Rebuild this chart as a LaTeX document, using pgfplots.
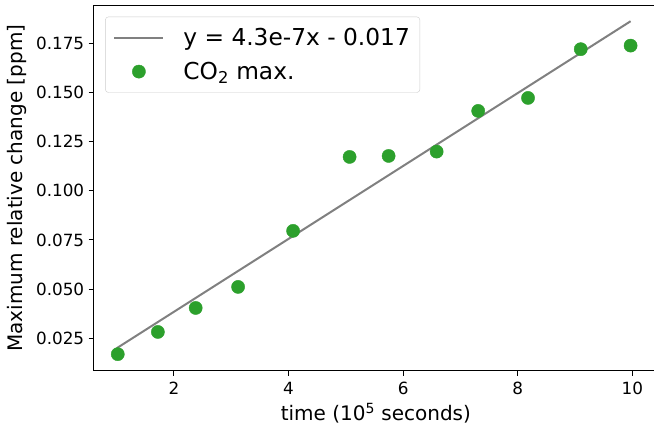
\documentclass[border=0pt]{standalone}
\usepackage{pgfplots}
\pgfplotsset{compat=1.18}
\usepackage{fontspec}
\setmainfont{DejaVu Sans}
\definecolor{mplgreen}{HTML}{2CA02C}
\definecolor{mplgray}{HTML}{808080}

\begin{document}
\begin{tikzpicture}[x=1pt,y=1pt]
\begin{axis}[
    width=564.4pt, height=365pt, scale only axis,
    xmin=0.6, xmax=10.45,
    ymin=0.0085, ymax=0.1941,
    xtick={2,4,6,8,10},
    ytick={0.025,0.050,0.075,0.100,0.125,0.150,0.175},
    yticklabel style={xshift=-1pt, /pgf/number format/.cd,fixed,fixed zerofill,precision=3},
    /pgf/number format/assume math mode=true,
    tick label style={font=\fontsize{16.8}{20}\selectfont},
    xticklabel style={yshift=-3pt},
    label style={font=\fontsize{20}{24}\selectfont},
    xlabel={time (10\textsuperscript{5} seconds)},
    ylabel={Maximum relative change [ppm]},
    xlabel style={at={(axis description cs:0.5,0)}, anchor=center, yshift=-42.5pt},
    ylabel style={at={(axis description cs:0,0.5)}, anchor=center, yshift=76.5pt},
    tick align=outside, tick pos=left,
    major tick length=5pt,
    tick style={black, line width=1.1pt},
    axis line style={line width=1.1pt},
    legend style={at={(axis description cs:0,1)}, anchor=north west,
        xshift=11.5pt, yshift=-11pt,
        draw=black!20, rounded corners=3pt, fill=white,
        font=\fontsize{23.3}{28}\selectfont,
        inner xsep=8pt, inner ysep=9.5pt, row sep=11pt,
        /tikz/every odd column/.append style={column sep=17pt}},
    legend cell align=left,
]
\addplot[mplgray, line width=2pt,
    legend image code/.code={\draw[mplgray, line width=2pt] (0pt,0pt) -- (49pt,0pt);}]
    coordinates {(1.0,0.0199) (9.97,0.1862)};
\addlegendentry{y = 4.3e-7x - 0.017}
\addplot[only marks, mark=*, mark size=6.6pt, mplgreen, mark options={fill=mplgreen, draw=none},
    legend image code/.code={\fill[mplgreen] (24.5pt,0pt) circle (6.6pt);}]
    coordinates {
    (1.02,0.0169) (1.72,0.0282) (2.38,0.0404) (3.12,0.0511)
    (4.08,0.0796) (5.066,0.1172) (5.747,0.1177) (6.585,0.1199)
    (7.31,0.1406) (8.18,0.1472) (9.10,0.1720) (9.97,0.1738)
    };
\addlegendentry{CO\textsubscript{2} max.}
\end{axis}
\pgfresetboundingbox
\path (-93.7,-59.3) rectangle (560.3,370.7);
\end{tikzpicture}
\end{document}
